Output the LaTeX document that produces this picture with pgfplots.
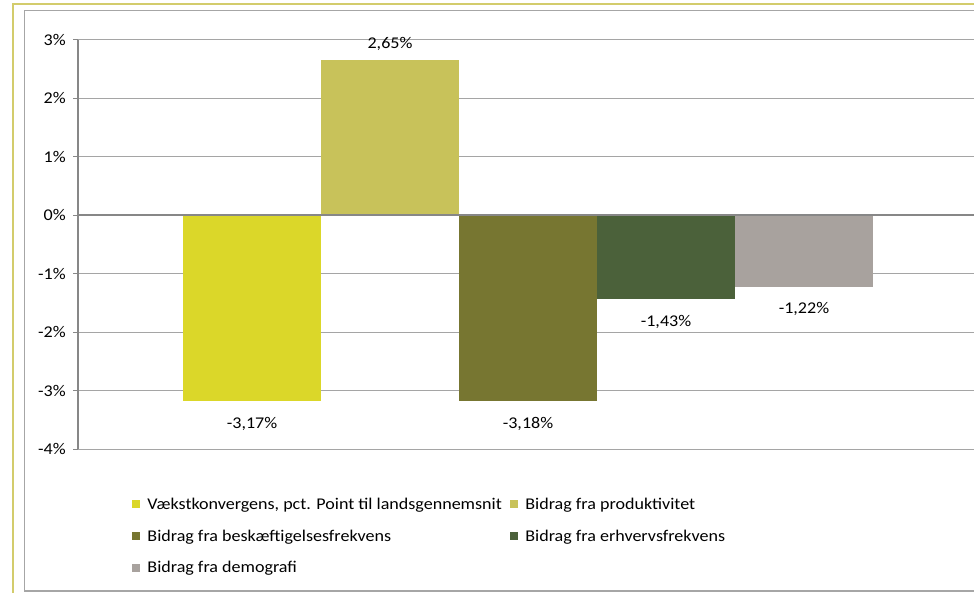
\documentclass[border=0pt]{standalone}
\usepackage{pgfplots}
\pgfplotsset{compat=1.18}
\usepackage{fontspec}
\setmainfont{Carlito}[FakeStretch=1.1]
\definecolor{cA}{HTML}{DBD729}
\definecolor{cB}{HTML}{C8C25A}
\definecolor{cC}{HTML}{777631}
\definecolor{cD}{HTML}{4B613A}
\definecolor{cE}{HTML}{A8A29E}
\definecolor{frameY}{HTML}{D3CC6C}
\definecolor{frameG}{HTML}{A6A6A6}
\definecolor{gridG}{HTML}{A5A5A5}
\definecolor{axisG}{HTML}{878787}
\begin{document}
\begin{tikzpicture}[font=\fontsize{16.4bp}{19.5bp}\selectfont]
\path[use as bounding box] (0,0) rectangle (974bp,-593bp);
\draw[frameY, line width=2.5bp] (12.8bp,-593bp) -- (12.8bp,-3.8bp) -- (974bp,-3.8bp);
\draw[frameG, line width=1.5bp] (974bp,-10.5bp) -- (24.7bp,-10.5bp) -- (24.7bp,-591bp) -- (974bp,-591bp);
\begin{axis}[
  at={(78bp,-449.3bp)}, anchor=south west,
  scale only axis, width=896bp, height=409.6bp,
  xmin=-1.261, xmax=5.232, ymin=-4, ymax=3,
  axis x line=none, axis y line=left,
  axis line style={-, color=axisG, line width=1.2bp},
  xtick=\empty,
  ytick={-4,-3,-2,-1,0,1,2,3},
  yticklabels={-4\%,-3\%,-2\%,-1\%,0\%,1\%,2\%,3\%},
  tick align=outside, major tick length=4.7bp,
  tick style={color=axisG, line width=1bp},
  yticklabel style={xshift=-4bp},
  ymajorgrids, major grid style={color=gridG, line width=1bp},
  /pgf/number format/assume math mode=true,
  legend columns=2,
  legend cell align=left,
  legend style={draw=none, fill=none, at={(axis description cs:0.060,-0.113)}, anchor=north west,
    inner sep=0pt,
    /tikz/every odd column/.append style={column sep=5bp},
    /tikz/every even column/.append style={column sep=6bp},
    /tikz/row sep=15bp},
  legend image code/.code={\fill[#1] (0bp,-4.2bp) rectangle (8.5bp,4.2bp);},
  clip=false,
]
\addplot[ybar, bar shift=0pt, bar width=1, fill=cA, draw=none,
  nodes near coords={\pgfmathprintnumber[fixed,fixed zerofill,precision=2,use comma]{\pgfplotspointmeta}\%},
  every node near coord/.append style={anchor=center, yshift=-22.8bp, text=black}]
  coordinates {(0,-3.17)};
\addlegendentry{Vækstkonvergens, pct. Point til landsgennemsnit}
\addplot[ybar, bar shift=0pt, bar width=1, fill=cB, draw=none,
  nodes near coords={\pgfmathprintnumber[fixed,fixed zerofill,precision=2,use comma]{\pgfplotspointmeta}\%},
  every node near coord/.append style={anchor=center, yshift=16.2bp, text=black}]
  coordinates {(1,2.65)};
\addlegendentry{Bidrag fra produktivitet}
\addplot[ybar, bar shift=0pt, bar width=1, fill=cC, draw=none,
  nodes near coords={\pgfmathprintnumber[fixed,fixed zerofill,precision=2,use comma]{\pgfplotspointmeta}\%},
  every node near coord/.append style={anchor=center, yshift=-22.8bp, text=black}]
  coordinates {(2,-3.18)};
\addlegendentry{Bidrag fra beskæftigelsesfrekvens}
\addplot[ybar, bar shift=0pt, bar width=1, fill=cD, draw=none,
  nodes near coords={\pgfmathprintnumber[fixed,fixed zerofill,precision=2,use comma]{\pgfplotspointmeta}\%},
  every node near coord/.append style={anchor=center, yshift=-22.8bp, text=black}]
  coordinates {(3,-1.43)};
\addlegendentry{Bidrag fra erhvervsfrekvens}
\addplot[ybar, bar shift=0pt, bar width=1, fill=cE, draw=none,
  nodes near coords={\pgfmathprintnumber[fixed,fixed zerofill,precision=2,use comma]{\pgfplotspointmeta}\%},
  every node near coord/.append style={anchor=center, yshift=-22.8bp, text=black}]
  coordinates {(4,-1.22)};
\addlegendentry{Bidrag fra demografi}
\draw[axisG, line width=2bp] (axis cs:-1.261,0) -- (axis cs:5.232,0);
\end{axis}
\end{tikzpicture}
\end{document}
